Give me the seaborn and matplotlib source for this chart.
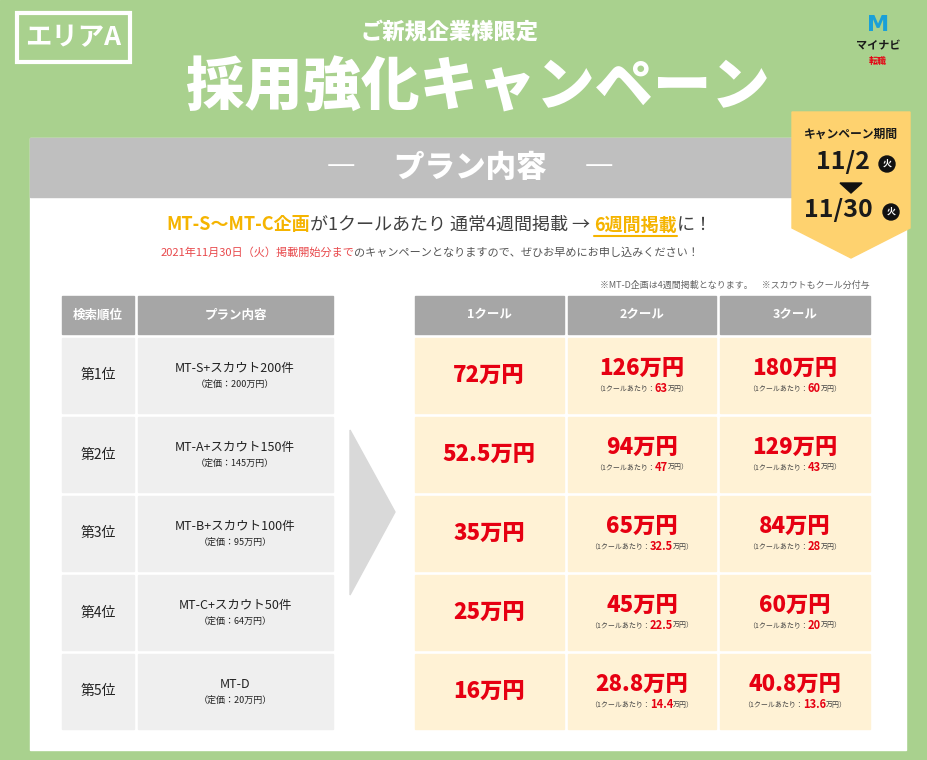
import matplotlib
matplotlib.use("Agg")
import matplotlib.pyplot as plt
from matplotlib.patches import Rectangle, Polygon, Circle
import seaborn as sns

sns.set_theme(style="white", font="Noto Sans CJK JP")
FONT = "Noto Sans CJK JP"

ranks = ["第1位", "第2位", "第3位", "第4位", "第5位"]
plans = ["MT-S+スカウト200件", "MT-A+スカウト150件", "MT-B+スカウト100件", "MT-C+スカウト50件", "MT-D"]
list_prices = ["200万円", "145万円", "95万円", "64万円", "20万円"]
price_1 = ["72", "52.5", "35", "25", "16"]
price_2 = ["126", "94", "65", "45", "28.8"]
price_3 = ["180", "129", "84", "60", "40.8"]
per_2 = ["63", "47", "32.5", "22.5", "14.4"]
per_3 = ["60", "43", "28", "20", "13.6"]
col_heads_left = ["検索順位", "プラン内容"]
col_heads_right = ["1クール", "2クール", "3クール"]

W, H = 928, 760
fig = plt.figure(figsize=(W / 100, H / 100), dpi=100)
ax = fig.add_axes([0, 0, 1, 1])
ax.set_xlim(0, W); ax.set_ylim(H, 0); ax.axis("off")
GREEN = "#a9d18e"; GRAY = "#a6a6a6"; RED = "#e60012"; ORANGE = "#f5b400"; DARK = "#404040"

ax.add_patch(Rectangle((0, 0), W, H, color=GREEN))
ax.add_patch(Rectangle((17, 13), 113, 49, fill=False, ec="white", lw=3))
ax.text(73, 38, "エリアA", color="white", fontsize=19, fontweight="bold", ha="center", va="center", family=FONT)
ax.text(450, 33, "ご新規企業様限定", color="white", fontsize=16, fontweight="black", ha="center", va="center", family=FONT)
ax.text(478, 88, "採用強化キャンペーン", color="white", fontsize=42, fontweight="black", ha="center", va="center", family=FONT)
ax.text(878, 25, "M", color="#1aa0d8", fontsize=16, fontweight="bold", ha="center", va="center", family="DejaVu Sans")
ax.text(878, 46, "マイナビ", color="#1a1a1a", fontsize=8, fontweight="bold", ha="center", va="center", family=FONT)
ax.text(878, 61, "転職", color=RED, fontsize=6.5, fontweight="bold", ha="center", va="center", family=FONT)

ax.add_patch(Rectangle((30, 138), 876, 612, color="white"))
ax.add_patch(Rectangle((30, 138), 876, 59, color="#bfbfbf"))
ax.text(470, 168, "―　 プラン内容 　―", color="white", fontsize=22, fontweight="black", ha="center", va="center", family=FONT)

ax.add_patch(Polygon([(792, 112), (910, 112), (910, 228), (851, 258), (792, 228)], color="#fed26f"))
ax.text(851, 134, "キャンペーン期間", fontsize=8.5, fontweight="bold", ha="center", va="center", color="#1a1a1a", family=FONT)
ax.text(843, 162, "11/2", fontsize=18, fontweight="bold", ha="center", va="center", color="#1a1a1a", family=FONT)
ax.add_patch(Circle((887, 164), 8, color="#111111"))
ax.text(887, 164, "火", fontsize=6.5, color="white", ha="center", va="center", fontweight="bold", family=FONT)
ax.add_patch(Polygon([(840, 183), (862, 183), (851, 193)], color="#111111"))
ax.text(838, 210, "11/30", fontsize=18, fontweight="bold", ha="center", va="center", color="#1a1a1a", family=FONT)
ax.add_patch(Circle((891, 212), 8, color="#111111"))
ax.text(891, 212, "火", fontsize=6.5, color="white", ha="center", va="center", fontweight="bold", family=FONT)

renderer = fig.canvas.get_renderer()
def runs(pieces, y, cx, size):
    objs = []
    for p in pieces:
        s, c, b = p[:3]
        sz = p[3] if len(p) > 3 else size
        t = ax.text(0, y, s, color=c, fontsize=sz, fontweight="bold" if b else "normal",
                    ha="left", va="center", family=FONT)
        objs.append(t)
    widths = [t.get_window_extent(renderer).width for t in objs]
    x = cx - sum(widths) / 2
    out = []
    for t, w in zip(objs, widths):
        t.set_x(x); out.append((x, w)); x += w
    return out

r = runs([("MT-S〜MT-C企画", ORANGE, True), ("が1クールあたり 通常4週間掲載 → ", DARK, False),
          ("6週間掲載", ORANGE, True), ("に！", DARK, False)], 225, 440, 13)
x6, w6 = r[2]
ax.plot([x6, x6 + w6], [236, 236], color=ORANGE, lw=1.5)
runs([("2021年11月30日（火）掲載開始分まで", "#e8484b", False),
      ("のキャンペーンとなりますので、ぜひお早めにお申し込みください！", "#555555", False)], 253, 430, 8)
ax.text(870, 285, "※MT-D企画は4週間掲載となります。　※スカウトもクール分付与", fontsize=6.5, color="#666666",
        ha="right", va="center", family=FONT)

hy0, hy1 = 296, 334
row_y = [338, 417, 496, 575, 654]
rh = 75
lcols = [(62, 134), (138, 333)]
rcols = [(415, 564), (568, 716), (720, 870)]
for (x0, x1), h in zip(lcols + rcols, col_heads_left + col_heads_right):
    ax.add_patch(Rectangle((x0, hy0), x1 - x0, hy1 - hy0, color=GRAY))
    ax.text((x0 + x1) / 2, (hy0 + hy1) / 2, h, color="white", fontsize=9, fontweight="bold",
            ha="center", va="center", family=FONT)

ax.add_patch(Polygon([(350, 430), (395, 512), (350, 595)], color="#d9d9d9"))

for i, y in enumerate(row_y):
    cy = y + rh / 2
    for x0, x1 in lcols:
        ax.add_patch(Rectangle((x0, y), x1 - x0, rh, color="#efefef"))
    for x0, x1 in rcols:
        ax.add_patch(Rectangle((x0, y), x1 - x0, rh, color="#fff2d5"))
    ax.text(98, cy, ranks[i], fontsize=10, ha="center", va="center", color="#222222", family=FONT)
    ax.text(235, cy - 7, plans[i], fontsize=9, ha="center", va="center", color="#222222", family=FONT)
    ax.text(235, cy + 9, "（定価：" + list_prices[i] + "）", fontsize=6.5, ha="center", va="center",
            color="#222222", family=FONT)
    ax.text(489, cy, price_1[i] + "万円", fontsize=16, fontweight="black", ha="center", va="center", color=RED, family=FONT)
    for (x0, x1), p, q in zip(rcols[1:], [price_2[i], price_3[i]], [per_2[i], per_3[i]]):
        mx = (x0 + x1) / 2
        ax.text(mx, cy - 7, p + "万円", fontsize=16, fontweight="black", ha="center", va="center", color=RED, family=FONT)
        runs([("（1クールあたり：", "#444444", False, 5), (q, RED, True, 8), ("万円）", "#444444", False, 5)], cy + 13, mx, 5)
fig.savefig("out.png", dpi=100)
